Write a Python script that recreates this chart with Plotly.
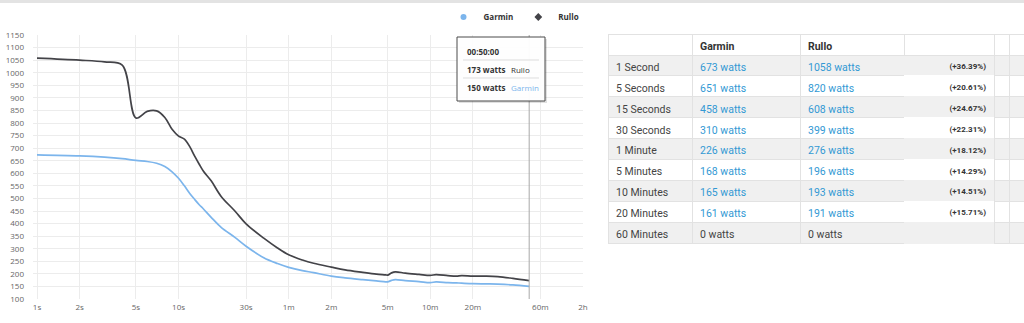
import math
import plotly.graph_objects as go

# ---------------- data ----------------
durations = [1, 2, 3, 4, 5, 6, 7, 8, 9, 10, 11, 12, 13, 14, 15, 17, 20, 25, 30, 40, 50, 60,
             75, 90, 120, 150, 200, 250, 290, 300, 320, 340, 400, 500, 600, 660, 800, 920, 1000,
             1200, 1500, 1800, 2300, 3000]
rullo = [1058, 1050, 1043, 1030, 820, 846, 848, 822, 775, 748, 736, 706, 668, 636, 608, 570, 508, 450, 399, 342, 303, 276,
         255, 242, 227, 216, 206, 199, 196, 195, 204, 208, 203, 198, 194, 197, 193, 191, 193,
         191, 191, 189, 182, 173]
garmin = [673, 669, 664, 658, 651, 647, 640, 627, 606, 580, 550, 520, 496, 475, 458, 425, 385, 345, 310, 264, 241, 226,
          213, 205, 191, 184, 177, 172, 168, 168, 174, 177, 173, 169, 165, 168, 165, 164, 163,
          161, 160, 159, 156, 150]

x_tickvals = [1, 2, 5, 10, 30, 60, 120, 300, 600, 1200, 3600, 7200]
x_ticktext = ['1s', '2s', '5s', '10s', '30s', '1m', '2m', '5m', '10m', '20m', '60m', '2h']

table_labels = ['1 Second', '5 Seconds', '15 Seconds', '30 Seconds', '1 Minute',
                '5 Minutes', '10 Minutes', '20 Minutes', '60 Minutes']
table_garmin = [673, 651, 458, 310, 226, 168, 165, 161, 0]
table_rullo = [1058, 820, 608, 399, 276, 196, 193, 191, 0]

# ---------------- styling ----------------
W, H = 1024, 323
GARMIN_COLOR = '#7cb5ec'
RULLO_COLOR = '#434348'
GRID = '#ececec'
BORDER = '#e2e2e2'
ROW_GRAY = '#f0f0f0'
VALUE_BLUE = '#3399d4'
CHART_FONT = 'Open Sans'
TABLE_FONT = 'Roboto'
NBSP = '\u00a0'


def px(x):
    return x / W


def py(y):
    return 1 - y / H


def nb(s):
    return s.replace(' ', NBSP)


fig = go.Figure()

fig.add_trace(go.Scatter(x=durations, y=rullo, mode='lines', name='Rullo', showlegend=False,
                         line=dict(color=RULLO_COLOR, width=1.7, shape='spline', smoothing=1),
                         hoverinfo='skip'))
fig.add_trace(go.Scatter(x=durations, y=garmin, mode='lines', name='Garmin', showlegend=False,
                         line=dict(color=GARMIN_COLOR, width=1.7, shape='spline', smoothing=1),
                         hoverinfo='skip'))
# legend entries
fig.add_trace(go.Scatter(x=[None], y=[None], mode='markers', name='Garmin',
                         marker=dict(color=GARMIN_COLOR, symbol='circle', size=6)))
fig.add_trace(go.Scatter(x=[None], y=[None], mode='markers', name='Rullo',
                         marker=dict(color=RULLO_COLOR, symbol='diamond', size=6)))

# ---------------- table ----------------
n = len(table_labels)
row_fill = [ROW_GRAY if i % 2 == 0 else '#ffffff' for i in range(n)]
garmin_txt = [nb(f'{v} watts') for v in table_garmin]
rullo_txt = [nb(f'{v} watts') for v in table_rullo]
pct_txt = [f'({(r - g) / r * 100:+.2f}%)' if g > 0 else '' for g, r in zip(table_garmin, table_rullo)]
label_txt = [nb(s) for s in table_labels]
blank = [''] * n
garmin_col = [VALUE_BLUE if v > 0 else '#444444' for v in table_garmin]
rullo_col = [VALUE_BLUE if v > 0 else '#444444' for v in table_rullo]
font_colors = [['#444444'] * n, garmin_col, rullo_col, ['#333333'] * n, ['#444444'] * n, ['#444444'] * n]
line_colors = [[BORDER] * n, [BORDER] * n, [BORDER] * n, row_fill, [BORDER] * n, [BORDER] * n]

fig.add_trace(go.Table(
    domain=dict(x=[px(608), 1.0], y=[py(246), py(34)]),
    columnwidth=[84, 108, 104, 90, 15, 15],
    header=dict(values=['', 'Garmin', 'Rullo', '', '', ''],
                fill_color='white', line=dict(color=BORDER, width=1), align='left', height=21,
                font=dict(family=TABLE_FONT, size=10.5, color='#333333', weight='bold')),
    cells=dict(values=[label_txt, garmin_txt, rullo_txt, pct_txt, blank, blank],
               fill_color=[row_fill] * 6, line=dict(color=line_colors, width=1),
               align=['left', 'left', 'left', 'right', 'left', 'left'], height=20.9,
               font=dict(family=TABLE_FONT, size=[10.5, 10.5, 10.5, 8, 10.5, 10.5], color=font_colors,
                         weight=['normal', 'normal', 'normal', 'bold', 'normal', 'normal'])),
))

# ---------------- layout ----------------
x0_log = math.log10(x_tickvals[0]) - 4 / 141.6
fig.update_layout(
    width=W, height=H, margin=dict(l=0, r=0, t=0, b=0),
    paper_bgcolor='white', plot_bgcolor='white',
    font=dict(family=CHART_FONT, size=8, color='#666666'),
    xaxis=dict(domain=[px(33), px(583)], type='log',
               range=[x0_log, math.log10(x_tickvals[-1])],
               tickvals=x_tickvals, ticktext=x_ticktext,
               showgrid=True, gridcolor=GRID, gridwidth=1, zeroline=False, showline=False,
               ticks='', ticklabelstandoff=2,
               tickfont=dict(family=CHART_FONT, size=8, color='#666666'), automargin=False),
    yaxis=dict(domain=[py(299), py(35)], range=[100, 1150], tick0=100, dtick=50,
               showgrid=True, gridcolor=GRID, gridwidth=1, zeroline=False, showline=False,
               ticks='', ticklabelstandoff=8,
               tickfont=dict(family=CHART_FONT, size=8, color='#666666'), automargin=False),
    legend=dict(orientation='h', x=px(514), xanchor='center', y=py(17), yanchor='middle',
                font=dict(family=CHART_FONT, size=8, color='#333333', weight='bold'),
                bgcolor='rgba(0,0,0,0)', itemwidth=30),
    showlegend=True,
)

# top band
shapes = [dict(type='rect', xref='paper', yref='paper', x0=0, x1=1, y0=py(3), y1=1,
               fillcolor='#e3e3e3', line=dict(width=0), layer='below')]
# crosshair at the last data point
shapes.append(dict(type='line', xref='x', yref='y', x0=durations[-1], x1=durations[-1],
                   y0=100, y1=1150, line=dict(color='#a8a8a8', width=1)))
# tooltip shadow + box + separators
shapes.append(dict(type='rect', xref='paper', yref='paper', x0=px(459), x1=px(547),
                   y0=py(103), y1=py(39), fillcolor='rgba(0,0,0,0.12)', line=dict(width=0)))
shapes.append(dict(type='rect', xref='paper', yref='paper', x0=px(457), x1=px(545),
                   y0=py(101), y1=py(37), fillcolor='rgba(255,255,255,0.96)',
                   line=dict(color='#4a4a4a', width=1)))
for ysep in (60, 78):
    shapes.append(dict(type='line', xref='paper', yref='paper', x0=px(463), x1=px(539),
                       y0=py(ysep), y1=py(ysep), line=dict(color='#dddddd', width=1)))
fig.update_layout(shapes=shapes)

t = durations[-1]
time_str = f'{t // 3600:02d}:{(t % 3600) // 60:02d}:{t % 60:02d}'
ann = [
    dict(text=f'<b>{time_str}</b>', x=px(465), y=py(51), color='#333333'),
    dict(text=f'<b>{rullo[-1]} watts</b>', x=px(465), y=py(69), color='#333333'),
    dict(text='Rullo', x=px(509), y=py(69), color='#333333'),
    dict(text=f'<b>{garmin[-1]} watts</b>', x=px(465), y=py(87), color='#333333'),
    dict(text='Garmin', x=px(509), y=py(87), color=GARMIN_COLOR),
]
fig.update_layout(annotations=[
    dict(text=a['text'], x=a['x'], y=a['y'], xref='paper', yref='paper', xanchor='left',
         yanchor='middle', showarrow=False,
         font=dict(family=CHART_FONT, size=8, color=a['color'])) for a in ann
])

fig.write_html('out.html')
